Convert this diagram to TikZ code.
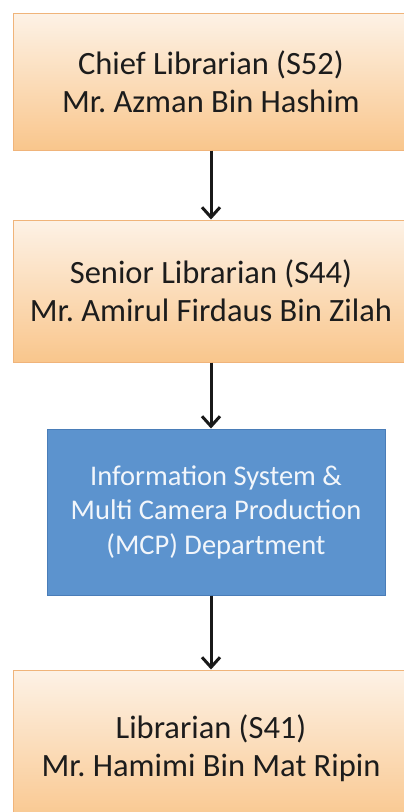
\documentclass[tikz,border=0pt]{standalone}
\usepackage{fontspec}
\setmainfont{Carlito}
\usetikzlibrary{arrows.meta}
\definecolor{orTop}{HTML}{FDF2E6}
\definecolor{orBot}{HTML}{F9C68C}
\definecolor{orLine}{HTML}{F0B47A}
\definecolor{bluFill}{HTML}{5C93CE}
\definecolor{bluLine}{HTML}{4A7DB8}
\definecolor{txt}{HTML}{1C1C1C}
\frenchspacing
\tikzset{
  x=1pt, y=1pt,
  rolebox/.style={draw=orLine, line width=1pt, top color=orTop, bottom color=orBot,
    minimum width=396pt, align=center, text=txt, inner sep=0pt,
    font=\fontsize{32.5}{38}\selectfont\frenchspacing},
  deptbox/.style={draw=bluLine, line width=1pt, fill=bluFill,
    minimum width=338pt, minimum height=166pt, align=center, text=white!92!bluFill, inner sep=0pt,
    font=\fontsize{28.5}{34.5}\selectfont},
  link/.style={line width=3pt, -{Straight Barb[length=10pt,width=18pt,line width=3pt]}, black!90}
}
\begin{document}
\begin{tikzpicture}
\useasboundingbox (0,0) rectangle (404,-812);
\clip (0,0) rectangle (404,-812);
\fill[white] (0,0) rectangle (404,-812);
\node[rolebox, minimum height=137pt] (chief) at (211,-81.5) {Chief Librarian (S52)\\Mr. Azman Bin Hashim};
\node[rolebox, minimum height=142pt] (senior) at (211,-291) {Senior Librarian (S44)\\Mr. Amirul Firdaus Bin Zilah};
\node[deptbox] (dept) at (216,-512) {Information System \&\\Multi Camera Production\\(MCP) Department};
\node[rolebox, minimum height=156pt] (lib) at (211,-748) {Librarian (S41)\\Mr. Hamimi Bin Mat Ripin};
\coordinate (a1s) at (211,-151);
\coordinate (a1e) at (211,-219);
\coordinate (a2s) at (211,-362);
\coordinate (a2e) at (211,-429);
\coordinate (a3s) at (211,-596);
\coordinate (a3e) at (211,-670);
\draw[link] (chief.south -| a1s) -- (senior.north -| a1e);
\draw[link] (senior.south -| a2s) -- (dept.north -| a2e);
\draw[link] (dept.south -| a3s) -- (lib.north -| a3e);
\end{tikzpicture}
\end{document}
